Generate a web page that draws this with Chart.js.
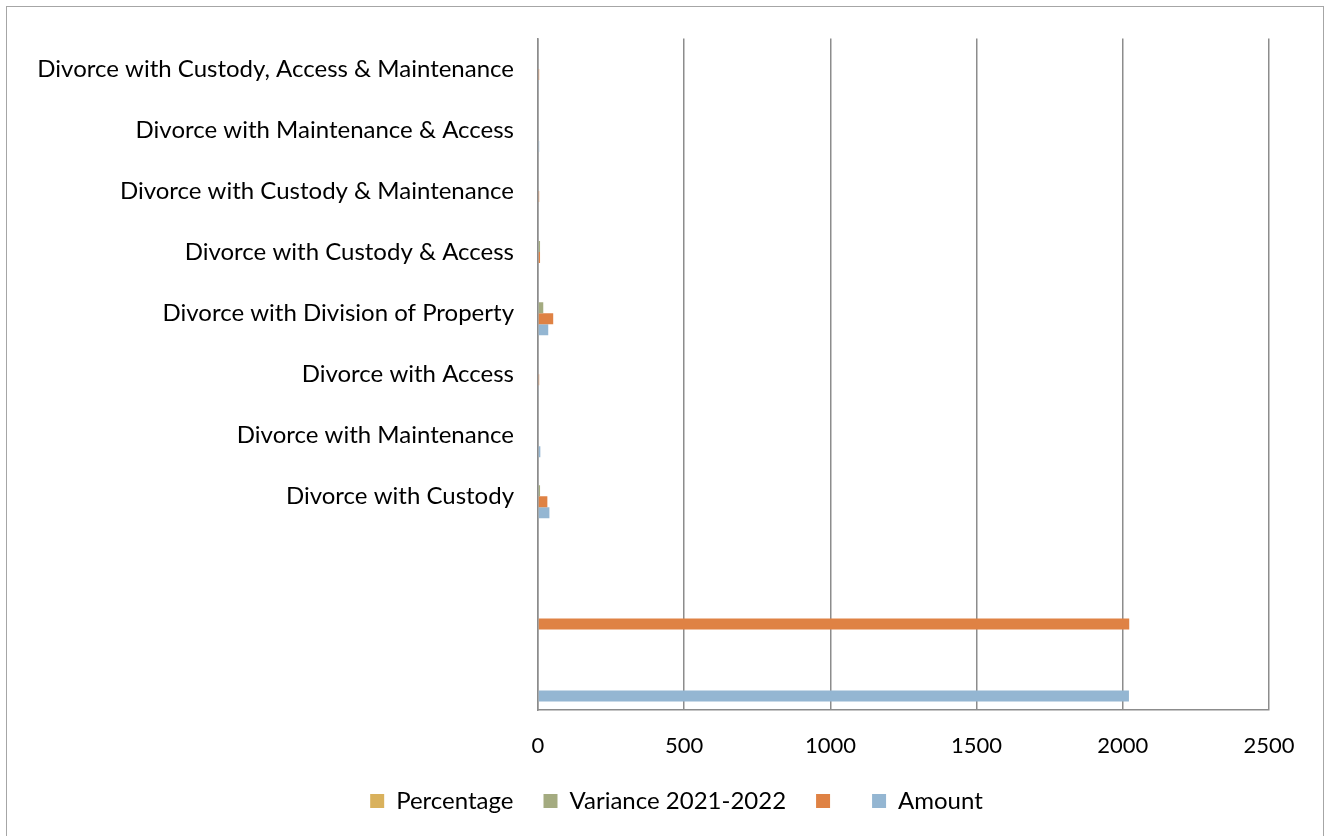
<!DOCTYPE html>
<html>
<head>
<meta charset="utf-8">
<script src="https://cdn.jsdelivr.net/npm/chart.js@4.4.1/dist/chart.umd.min.js"></script>
<style>
  html, body { margin: 0; padding: 0; background: #fff; }
  #wrap { position: relative; width: 1331px; height: 836px; }
  #frame { position: absolute; left: 6px; top: 6px; width: 1318px; height: 900px;
           border: 1.5px solid #a6a6a6; box-sizing: border-box; pointer-events: none; }
</style>
</head>
<body>
<div id="wrap">
  <canvas id="c" width="1331" height="836"></canvas>
  <div id="frame"></div>
</div>
<script>
const categories = [
  "Divorce with Custody, Access & Maintenance",
  "Divorce with Maintenance & Access",
  "Divorce with Custody & Maintenance",
  "Divorce with Custody & Access",
  "Divorce with Division of Property",
  "Divorce with Access",
  "Divorce with Maintenance",
  "Divorce with Custody",
  "",
  "",
  ""
];
const percentage  = [0, 0, 0, 0, 0, 0, 0, 0, 0, 0, 0];
const variance    = [0, 0, 0, 7, 18, 0, 0, 7, 0, 0, 0];
const unnamed     = [4, 0, 4, 7, 52, 4, 0, 32, 0, 2022, 0];
const amount      = [3, 4, 0, 0, 35, 3, 8, 39, 0, 0, 2021];
const xTicks = [0, 500, 1000, 1500, 2000, 2500];

const FONT = "Lato";
const LEG_PAD = 30;
const PAD_L = 0;
const LEGEND_SHIFT = 42;

const shiftLegend = {
  id: 'shiftLegend',
  afterLayout(chart) {
    if (chart.legend) {
      chart.legend.left += LEGEND_SHIFT;
      chart.legend.right += LEGEND_SHIFT;
    }
  }
};

new Chart(document.getElementById('c'), {
  type: 'bar',
  data: {
    labels: categories,
    datasets: [
      { label: 'Percentage', data: percentage, backgroundColor: '#D9B15C' },
      { label: 'Variance 2021-2022', data: variance, backgroundColor: '#A4AB80' },
      { label: '', data: unnamed, backgroundColor: '#DF8244' },
      { label: 'Amount', data: amount, backgroundColor: '#94B6D2' }
    ]
  },
  plugins: [shiftLegend],
  options: {
    indexAxis: 'y',
    responsive: false,
    animation: false,
    barPercentage: 1.0,
    categoryPercentage: 0.72,
    layout: { padding: { left: PAD_L, right: 62, top: 37, bottom: 13 } },
    plugins: {
      tooltip: { enabled: false },
      legend: {
        position: 'bottom',
        labels: {
          font: { family: FONT, size: 24 },
          color: '#000',
          boxWidth: 14,
          boxHeight: 14,
          padding: LEG_PAD
        }
      }
    },
    scales: {
      x: {
        min: 0, max: 2500,
        afterBuildTicks: (s) => { s.ticks = xTicks.map(v => ({ value: v })); },
        afterFit: (s) => { s.height = 79 - LEG_PAD; },
        grid: { color: '#8c8c8c', lineWidth: 1.5, drawTicks: false },
        border: { display: true, color: '#8c8c8c', width: 1.5 },
        ticks: {
          font: { family: FONT, size: 22 }, color: '#000', padding: 23, maxRotation: 0,
          callback: (v) => String(v)
        }
      },
      y: {
        afterFit: (s) => { s.width = 538 - PAD_L; },
        grid: { display: false, drawTicks: false },
        border: { display: true, color: '#8c8c8c', width: 1.5 },
        ticks: { font: { family: FONT, size: 24 }, color: '#000', padding: 24, autoSkip: false }
      }
    }
  }
});
</script>
</body>
</html>
